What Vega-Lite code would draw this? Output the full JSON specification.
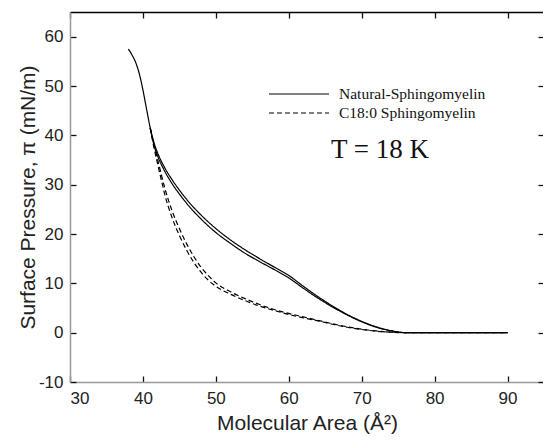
{
  "$schema": "https://vega.github.io/schema/vega-lite/v6.json",
  "width": 474,
  "height": 370,
  "autosize": {"type": "none"},
  "padding": {"left": 70, "top": 12, "right": 0, "bottom": 58},
  "background": "white",
  "config": {
    "view": {"stroke": null},
    "axis": {
      "grid": false,
      "labelFont": "Liberation Sans",
      "labelFontSize": 17,
      "labelColor": "#222",
      "titleFont": "Liberation Sans",
      "titleFontSize": 21,
      "titleFontWeight": "normal",
      "titleColor": "#222"
    }
  },
  "layer": [
    {
      "data": {"values": [
        {"s":"Natural-Sphingomyelin","run":"a","area":38.0,"pi":57.5},
        {"s":"Natural-Sphingomyelin","run":"a","area":38.5,"pi":56.3},
        {"s":"Natural-Sphingomyelin","run":"a","area":39.0,"pi":54.8},
        {"s":"Natural-Sphingomyelin","run":"a","area":39.5,"pi":52.5},
        {"s":"Natural-Sphingomyelin","run":"a","area":40.0,"pi":49.2},
        {"s":"Natural-Sphingomyelin","run":"a","area":40.5,"pi":45.3},
        {"s":"Natural-Sphingomyelin","run":"a","area":41.0,"pi":41.5},
        {"s":"Natural-Sphingomyelin","run":"a","area":41.5,"pi":38.6},
        {"s":"Natural-Sphingomyelin","run":"a","area":42,"pi":36.5},
        {"s":"Natural-Sphingomyelin","run":"a","area":43,"pi":33.4},
        {"s":"Natural-Sphingomyelin","run":"a","area":44,"pi":31.0},
        {"s":"Natural-Sphingomyelin","run":"a","area":45,"pi":28.9},
        {"s":"Natural-Sphingomyelin","run":"a","area":46,"pi":27.0},
        {"s":"Natural-Sphingomyelin","run":"a","area":48,"pi":23.8},
        {"s":"Natural-Sphingomyelin","run":"a","area":50,"pi":21.1},
        {"s":"Natural-Sphingomyelin","run":"a","area":52,"pi":18.8},
        {"s":"Natural-Sphingomyelin","run":"a","area":54,"pi":16.8},
        {"s":"Natural-Sphingomyelin","run":"a","area":56,"pi":15.0},
        {"s":"Natural-Sphingomyelin","run":"a","area":58,"pi":13.3},
        {"s":"Natural-Sphingomyelin","run":"a","area":60,"pi":11.6},
        {"s":"Natural-Sphingomyelin","run":"a","area":62,"pi":9.4},
        {"s":"Natural-Sphingomyelin","run":"a","area":64,"pi":7.3},
        {"s":"Natural-Sphingomyelin","run":"a","area":66,"pi":5.4},
        {"s":"Natural-Sphingomyelin","run":"a","area":68,"pi":3.7},
        {"s":"Natural-Sphingomyelin","run":"a","area":70,"pi":2.3},
        {"s":"Natural-Sphingomyelin","run":"a","area":72,"pi":1.2},
        {"s":"Natural-Sphingomyelin","run":"a","area":74,"pi":0.4},
        {"s":"Natural-Sphingomyelin","run":"a","area":75.5,"pi":0.05},
        {"s":"Natural-Sphingomyelin","run":"a","area":76.5,"pi":0},
        {"s":"Natural-Sphingomyelin","run":"a","area":80,"pi":0},
        {"s":"Natural-Sphingomyelin","run":"a","area":85,"pi":0},
        {"s":"Natural-Sphingomyelin","run":"a","area":90,"pi":0},
        {"s":"Natural-Sphingomyelin","run":"b","area":41.0,"pi":41.5},
        {"s":"Natural-Sphingomyelin","run":"b","area":41.5,"pi":38.1},
        {"s":"Natural-Sphingomyelin","run":"b","area":42,"pi":35.9},
        {"s":"Natural-Sphingomyelin","run":"b","area":43,"pi":32.7},
        {"s":"Natural-Sphingomyelin","run":"b","area":44,"pi":30.2},
        {"s":"Natural-Sphingomyelin","run":"b","area":45,"pi":28.1},
        {"s":"Natural-Sphingomyelin","run":"b","area":46,"pi":26.2},
        {"s":"Natural-Sphingomyelin","run":"b","area":48,"pi":23.0},
        {"s":"Natural-Sphingomyelin","run":"b","area":50,"pi":20.3},
        {"s":"Natural-Sphingomyelin","run":"b","area":52,"pi":18.1},
        {"s":"Natural-Sphingomyelin","run":"b","area":54,"pi":16.1},
        {"s":"Natural-Sphingomyelin","run":"b","area":56,"pi":14.4},
        {"s":"Natural-Sphingomyelin","run":"b","area":58,"pi":12.8},
        {"s":"Natural-Sphingomyelin","run":"b","area":60,"pi":11.1},
        {"s":"Natural-Sphingomyelin","run":"b","area":62,"pi":9.0},
        {"s":"Natural-Sphingomyelin","run":"b","area":64,"pi":7.0},
        {"s":"Natural-Sphingomyelin","run":"b","area":66,"pi":5.2},
        {"s":"Natural-Sphingomyelin","run":"b","area":68,"pi":3.6},
        {"s":"Natural-Sphingomyelin","run":"b","area":70,"pi":2.2},
        {"s":"Natural-Sphingomyelin","run":"b","area":72,"pi":1.1},
        {"s":"Natural-Sphingomyelin","run":"b","area":74,"pi":0.4},
        {"s":"Natural-Sphingomyelin","run":"b","area":75.5,"pi":0.05},
        {"s":"Natural-Sphingomyelin","run":"b","area":76.5,"pi":0},
        {"s":"Natural-Sphingomyelin","run":"b","area":90,"pi":0},
        {"s":"C18:0 Sphingomyelin","run":"a","area":41.0,"pi":41.5},
        {"s":"C18:0 Sphingomyelin","run":"a","area":41.5,"pi":38.2},
        {"s":"C18:0 Sphingomyelin","run":"a","area":42,"pi":35.2},
        {"s":"C18:0 Sphingomyelin","run":"a","area":42.5,"pi":32.2},
        {"s":"C18:0 Sphingomyelin","run":"a","area":43,"pi":29.3},
        {"s":"C18:0 Sphingomyelin","run":"a","area":44,"pi":24.7},
        {"s":"C18:0 Sphingomyelin","run":"a","area":45,"pi":21.1},
        {"s":"C18:0 Sphingomyelin","run":"a","area":46,"pi":18.0},
        {"s":"C18:0 Sphingomyelin","run":"a","area":47,"pi":15.4},
        {"s":"C18:0 Sphingomyelin","run":"a","area":48,"pi":13.2},
        {"s":"C18:0 Sphingomyelin","run":"a","area":49,"pi":11.5},
        {"s":"C18:0 Sphingomyelin","run":"a","area":50,"pi":10.1},
        {"s":"C18:0 Sphingomyelin","run":"a","area":52,"pi":8.3},
        {"s":"C18:0 Sphingomyelin","run":"a","area":54,"pi":6.9},
        {"s":"C18:0 Sphingomyelin","run":"a","area":56,"pi":5.7},
        {"s":"C18:0 Sphingomyelin","run":"a","area":58,"pi":4.7},
        {"s":"C18:0 Sphingomyelin","run":"a","area":60,"pi":3.9},
        {"s":"C18:0 Sphingomyelin","run":"a","area":62,"pi":3.2},
        {"s":"C18:0 Sphingomyelin","run":"a","area":64,"pi":2.5},
        {"s":"C18:0 Sphingomyelin","run":"a","area":66,"pi":1.8},
        {"s":"C18:0 Sphingomyelin","run":"a","area":68,"pi":1.2},
        {"s":"C18:0 Sphingomyelin","run":"a","area":70,"pi":0.7},
        {"s":"C18:0 Sphingomyelin","run":"a","area":72,"pi":0.35},
        {"s":"C18:0 Sphingomyelin","run":"a","area":74,"pi":0.1},
        {"s":"C18:0 Sphingomyelin","run":"a","area":76,"pi":0},
        {"s":"C18:0 Sphingomyelin","run":"a","area":90,"pi":0},
        {"s":"C18:0 Sphingomyelin","run":"b","area":41.0,"pi":41.5},
        {"s":"C18:0 Sphingomyelin","run":"b","area":41.5,"pi":37.6},
        {"s":"C18:0 Sphingomyelin","run":"b","area":42,"pi":34.3},
        {"s":"C18:0 Sphingomyelin","run":"b","area":42.5,"pi":31.1},
        {"s":"C18:0 Sphingomyelin","run":"b","area":43,"pi":28.0},
        {"s":"C18:0 Sphingomyelin","run":"b","area":44,"pi":23.3},
        {"s":"C18:0 Sphingomyelin","run":"b","area":45,"pi":19.7},
        {"s":"C18:0 Sphingomyelin","run":"b","area":46,"pi":16.7},
        {"s":"C18:0 Sphingomyelin","run":"b","area":47,"pi":14.2},
        {"s":"C18:0 Sphingomyelin","run":"b","area":48,"pi":12.2},
        {"s":"C18:0 Sphingomyelin","run":"b","area":49,"pi":10.6},
        {"s":"C18:0 Sphingomyelin","run":"b","area":50,"pi":9.4},
        {"s":"C18:0 Sphingomyelin","run":"b","area":52,"pi":7.8},
        {"s":"C18:0 Sphingomyelin","run":"b","area":54,"pi":6.5},
        {"s":"C18:0 Sphingomyelin","run":"b","area":56,"pi":5.4},
        {"s":"C18:0 Sphingomyelin","run":"b","area":58,"pi":4.5},
        {"s":"C18:0 Sphingomyelin","run":"b","area":60,"pi":3.7},
        {"s":"C18:0 Sphingomyelin","run":"b","area":62,"pi":3.0},
        {"s":"C18:0 Sphingomyelin","run":"b","area":64,"pi":2.4},
        {"s":"C18:0 Sphingomyelin","run":"b","area":66,"pi":1.7},
        {"s":"C18:0 Sphingomyelin","run":"b","area":68,"pi":1.1},
        {"s":"C18:0 Sphingomyelin","run":"b","area":70,"pi":0.65},
        {"s":"C18:0 Sphingomyelin","run":"b","area":72,"pi":0.3},
        {"s":"C18:0 Sphingomyelin","run":"b","area":74,"pi":0.1},
        {"s":"C18:0 Sphingomyelin","run":"b","area":76,"pi":0},
        {"s":"C18:0 Sphingomyelin","run":"b","area":90,"pi":0}
      ]},
      "mark": {"type": "line", "color": "black", "strokeWidth": 1.2, "interpolate": "monotone"},
      "encoding": {
        "x": {"field": "area", "type": "quantitative",
              "scale": {"domain": [30, 95], "nice": false, "zero": false},
              "axis": {"orient": "bottom", "values": [30,40,50,60,70,80,90], "title": "Molecular Area (Å²)",
                       "tickSize": -6, "tickColor": "#111", "tickWidth": 1.3, "labelPadding": 14,
                       "domainColor": "#999", "domainWidth": 1.5, "titlePadding": 6}},
        "y": {"field": "pi", "type": "quantitative",
              "scale": {"domain": [-10, 65], "nice": false, "zero": false},
              "axis": {"orient": "left", "values": [-10,0,10,20,30,40,50,60], "title": "Surface Pressure, π (mN/m)",
                       "tickSize": -6, "tickColor": "#111", "tickWidth": 1.3, "labelPadding": 13,
                       "labelExpr": "replace(datum.label, '\u2212', '-')",
                       "domainColor": "#999", "domainWidth": 1.5, "titlePadding": 0}},
        "detail": {"field": "run"},
        "strokeDash": {"field": "s", "type": "nominal",
          "scale": {"domain": ["Natural-Sphingomyelin", "C18:0 Sphingomyelin"], "range": [[1, 0], [5, 3]]},
          "legend": {"orient": "none", "legendX": 219, "legendY": 72, "title": null,
                     "symbolType": "M-3.333,0H3.333", "symbolSize": 324, "symbolStrokeColor": "black",
                     "symbolStrokeWidth": 1.2, "labelFont": "Liberation Serif", "labelFontSize": 15.5,
                     "labelColor": "#111", "labelOffset": 30, "padding": 0, "rowPadding": 0}}
      }
    },
    {
      "data": {"values": [{}]},
      "mark": {"type": "text", "text": "T = 18 K", "font": "Liberation Serif", "fontSize": 27, "color": "#111", "align": "center", "baseline": "middle"},
      "encoding": {
        "x": {"datum": 72.5, "type": "quantitative",
              "scale": {"domain": [30, 95], "nice": false, "zero": false},
              "axis": {"orient": "top", "values": [30,40,50,60,70,80,90], "labels": false, "title": null,
                       "tickSize": -6, "tickColor": "#111", "tickWidth": 1.3,
                       "domainColor": "black", "domainWidth": 1.5}},
        "y": {"datum": 37, "type": "quantitative",
              "scale": {"domain": [-10, 65], "nice": false, "zero": false},
              "axis": {"orient": "right", "values": [-10,0,10,20,30,40,50,60], "labels": false, "title": null,
                       "tickSize": -6, "tickColor": "#111", "tickWidth": 1.3,
                       "domainColor": "black", "domainWidth": 1.5}}
      }
    }
  ],
  "resolve": {"axis": {"x": "independent", "y": "independent"}}
}
